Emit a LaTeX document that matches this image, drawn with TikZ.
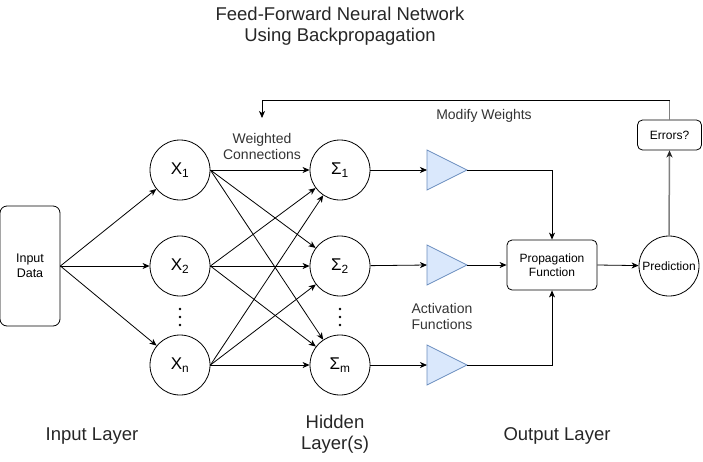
\documentclass[tikz,border=0pt]{standalone}
\usepackage{fontspec}
\setmainfont{Liberation Sans}
\usetikzlibrary{arrows.meta,shapes.geometric}
\definecolor{trifill}{HTML}{DAE8FC}
\definecolor{tristroke}{HTML}{6C8EBF}
\definecolor{greyline}{HTML}{808080}
\begin{document}
\begin{tikzpicture}[x=1pt,y=-1pt,
  txt/.style={font=\fontsize{14}{16}\selectfont, text=black!80, align=center, inner sep=0pt},
  big/.style={font=\fontsize{18.5}{21}\selectfont, text=black!85, align=center, inner sep=0pt},
  neuron/.style={draw, circle, minimum size=60pt, inner sep=0pt, font=\fontsize{17}{19}\selectfont},
  rbox/.style={draw, rounded corners=5pt, inner sep=0pt, align=center, font=\fontsize{12}{14}\selectfont},
  tri/.style={draw=tristroke, fill=trifill},
  dot/.style={fill=black, circle, inner sep=0pt, minimum size=2.6pt},
  arr/.style={-{Stealth[length=7pt,width=6pt,inset=2pt]}, line width=0.8pt},
  every path/.style={line width=0.8pt}
]
\useasboundingbox (0,0) rectangle (703,461);
% title
\node[big] (title) at (340,26) {Feed-Forward Neural Network\\Using Backpropagation};
% input
\node[rbox, minimum width=60pt, minimum height=120pt, rounded corners=7pt, font=\fontsize{12.5}{15}\selectfont] (in) at (30,266) {Input\\Data};
% input neurons
\node[neuron] (x1) at (180,170) {X\textsubscript{1}};
\node[neuron] (x2) at (180,266) {X\textsubscript{2}};
\node[neuron] (xn) at (180,365) {X\textsubscript{n}};
\node[dot] (xd1) at (180,309) {};
\node[dot] (xd2) at (180,317) {};
\node[dot] (xd3) at (180,325) {};
% hidden neurons
\node[neuron] (s1) at (340,170) {Σ\textsubscript{1}};
\node[neuron] (s2) at (340,266) {Σ\textsubscript{2}};
\node[neuron] (sm) at (340,365) {Σ\textsubscript{m}};
\node[dot] (sd1) at (340,309) {};
\node[dot] (sd2) at (340,317) {};
\node[dot] (sd3) at (340,325) {};
% activation triangles
\draw[tri] (427,150) -- (467,170) -- (427,190) -- cycle;
\draw[tri] (427,245) -- (467,265) -- (427,285) -- cycle;
\draw[tri] (427,345) -- (467,365) -- (427,385) -- cycle;
\coordinate (t1in) at (427,170); \coordinate (t1out) at (467,170);
\coordinate (t2in) at (427,265); \coordinate (t2out) at (467,265);
\coordinate (t3in) at (427,365); \coordinate (t3out) at (467,365);
% output
\node[rbox, minimum width=90pt, minimum height=50pt] (prop) at (552,265) {Propagation\\Function};
\node[neuron, font=\fontsize{12}{14}\selectfont] (pred) at (669,266) {Prediction};
\node[rbox, minimum width=64pt, minimum height=30pt] (err) at (669.5,135) {Errors?};
% labels
\node[txt] (wc) at (262,146) {Weighted\\Connections};
\node[txt] (mw) at (484,116) {Modify Weights};
\node[txt] (af) at (442,316) {Activation\\Functions};
\node[big] (il) at (92,436) {Input Layer};
\node[big] (hl) at (335,434) {Hidden\\Layer(s)};
\node[big] (ol) at (557,436) {Output Layer};
% connections input -> X
\foreach \t in {x1,x2,xn} \draw[arr] (in.east) -- (\t);
% X -> Sigma
\foreach \s in {x1,x2,xn} {
  \foreach \t in {s1,s2,sm} \draw[arr] (\s.east) -- (\t);
}
% Sigma -> triangles
\draw[arr] (s1) -- (t1in);
\draw[arr] (s2) -- (t2in);
\draw[arr] (sm) -- (t3in);
% triangles -> propagation
\draw[arr] (t1out) -| (prop.north);
\draw[arr] (t2out) -- (prop.west);
\draw[arr] (t3out) -| (prop.south);
% propagation -> prediction
\draw[arr] (prop.east) -- (pred);
% prediction -> errors
\draw[-{Stealth[length=7pt,width=6pt,inset=2pt,color=black!85]}, draw=greyline, line width=1.5pt] (pred.north) -- (err.south);
% feedback
\coordinate (fbend) at (262,118);
\draw[greyline, line width=1.5pt] (err.north) -- (669.5,100);
\draw[arr] (669.5,100) -| (fbend);
\end{tikzpicture}
\end{document}
